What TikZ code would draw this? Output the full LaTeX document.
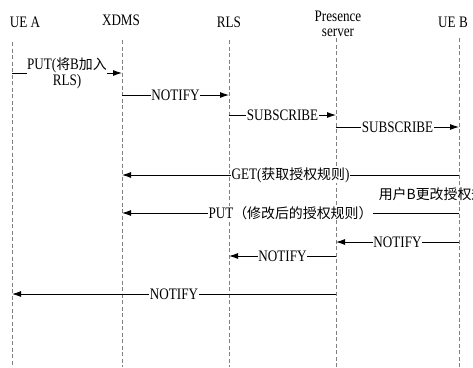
\documentclass[tikz,border=0pt]{standalone}
\usepackage{fontspec}
\setmainfont{Liberation Serif}[FakeStretch=0.82]
\newfontfamily\cjk{Noto Sans CJK SC}[Scale=0.87]
\usetikzlibrary{arrows.meta}
\tikzset{
  lifeline/.style={draw=gray, dash pattern=on 4pt off 2.5pt, line width=0.7pt},
  msg/.style={-{Latex[length=9pt,width=6pt]}, line width=0.9pt},
  lbl/.style={fill=white, inner sep=0.6pt, font=\fontsize{16}{16}\selectfont},
  head/.style={font=\fontsize{16}{15}\selectfont, align=center}
}

\begin{document}
\begin{tikzpicture}[x=1pt,y=-1pt]
  \useasboundingbox (0,0) rectangle (473,367);
  \clip (0,0) rectangle (473,367);

  % Place the header nodes
  \node[head] (ueA) at (25,22) {UE A};
  \node[head] (xdms) at (121,20) {XDMS};
  \node[head] (rls) at (229,22) {RLS};
  \node[head] (pres) at (338,24) {Presence\\server};
  \node[head] (ueB) at (453,22) {UE B};

  % The lifelines
  \coordinate (a0) at (12,42);  \coordinate (a1) at (12,367);
  \coordinate (x0) at (122,40); \coordinate (x1) at (122,367);
  \coordinate (r0) at (229,40); \coordinate (r1) at (229,367);
  \coordinate (p0) at (336,38); \coordinate (p1) at (336,367);
  \coordinate (b0) at (459,38); \coordinate (b1) at (459,367);
  \draw[lifeline] (a0) -- (a1);
  \draw[lifeline] (x0) -- (x1);
  \draw[lifeline] (r0) -- (r1);
  \draw[lifeline] (p0) -- (p1);
  \draw[lifeline] (b0) -- (b1);

  % Rows of the messages
  \coordinate (m1) at (0,73);
  \coordinate (m2) at (0,95);
  \coordinate (m3) at (0,115);
  \coordinate (m4) at (0,127);
  \coordinate (m5) at (0,175);
  \coordinate (m6) at (0,213);
  \coordinate (m7) at (0,242);
  \coordinate (m8) at (0,256);
  \coordinate (m9) at (0,294);

  % The messages!
  \draw[msg] (a0 |- m1) -- node[lbl, align=center] (put1) {PUT({\cjk 将}B{\cjk 加入}\\RLS)} (x0 |- m1);
  \draw[msg] (x0 |- m2) -- node[lbl] (ntf1) {NOTIFY} (r0 |- m2);
  \draw[msg] (r0 |- m3) -- node[lbl] (sub1) {SUBSCRIBE} (p0 |- m3);
  \draw[msg] (p0 |- m4) -- node[lbl] (sub2) {SUBSCRIBE} (b0 |- m4);
  \draw[msg] (b0 |- m5) -- node[lbl] (get) {GET({\cjk 获取授权规则})} (x0 |- m5);
  \node[lbl, fill=none, anchor=west] (note) at (378,194) {\cjk 用户B更改授权规则};
  \draw[msg] (b0 |- m6) -- node[lbl] (put2) {PUT{\cjk （修改后的授权规则）}} (x0 |- m6);
  \draw[msg] (b0 |- m7) -- node[lbl] (ntf2) {NOTIFY} (p0 |- m7);
  \draw[msg] (p0 |- m8) -- node[lbl] (ntf3) {NOTIFY} (r0 |- m8);
  \draw[msg] (p0 |- m9) -- node[lbl] (ntf4) {NOTIFY} (a0 |- m9);
\end{tikzpicture}
\end{document}
